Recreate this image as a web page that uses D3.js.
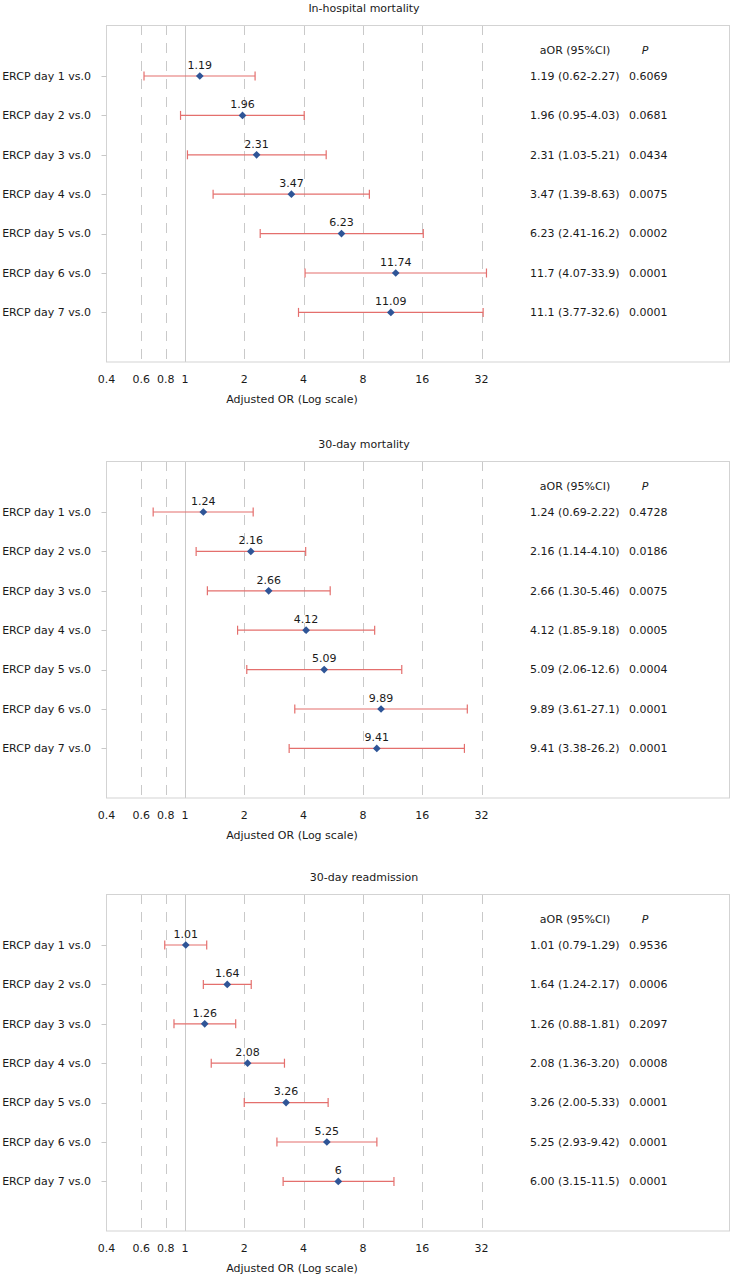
<!DOCTYPE html>
<html>
<head>
<meta charset="utf-8">
<script src="https://cdn.jsdelivr.net/npm/d3@7"></script>
<style>
  body { margin: 0; background: #fff; }
  text { font-family: "DejaVu Sans", Verdana, sans-serif; font-size: 11px; fill: #1a1a1a; }
</style>
</head>
<body>
<div id="chart"></div>
<script>
// data
var rowLabels = ["ERCP day 1 vs.0", "ERCP day 2 vs.0", "ERCP day 3 vs.0", "ERCP day 4 vs.0",
                 "ERCP day 5 vs.0", "ERCP day 6 vs.0", "ERCP day 7 vs.0"];
var panelTitles = ["In-hospital mortality", "30-day mortality", "30-day readmission"];
var tickValues = [0.4, 0.6, 0.8, 1, 2, 4, 8, 16, 32];
var gridValues = [0.6, 0.8, 2, 4, 8, 16, 32];

var hospOR = [1.19, 1.96, 2.31, 3.47, 6.23, 11.74, 11.09];
var hospLo = [0.62, 0.95, 1.03, 1.39, 2.41, 4.07, 3.77];
var hospHi = [2.27, 4.03, 5.21, 8.63, 16.2, 33.9, 32.6];
var hospP  = [0.6069, 0.0681, 0.0434, 0.0075, 0.0002, 0.0001, 0.0001];

var mort30OR = [1.24, 2.16, 2.66, 4.12, 5.09, 9.89, 9.41];
var mort30Lo = [0.69, 1.14, 1.30, 1.85, 2.06, 3.61, 3.38];
var mort30Hi = [2.22, 4.10, 5.46, 9.18, 12.6, 27.1, 26.2];
var mort30P  = [0.4728, 0.0186, 0.0075, 0.0005, 0.0004, 0.0001, 0.0001];

var readmOR = [1.01, 1.64, 1.26, 2.08, 3.26, 5.25, 6];
var readmLo = [0.79, 1.24, 0.88, 1.36, 2.00, 2.93, 3.15];
var readmHi = [1.29, 2.17, 1.81, 3.20, 5.33, 9.42, 11.5];
var readmP  = [0.9536, 0.0006, 0.2097, 0.0008, 0.0001, 0.0001, 0.0001];

var panels = [
  {title: panelTitles[0], or: hospOR, lo: hospLo, hi: hospHi, p: hospP, top: 25},
  {title: panelTitles[1], or: mort30OR, lo: mort30Lo, hi: mort30Hi, p: mort30P, top: 461},
  {title: panelTitles[2], or: readmOR, lo: readmLo, hi: readmHi, p: readmP, top: 894}
];

var width = 731, height = 1275;
var left = 106.5, right = 729.5, plotH = 337;
var errColor = "#e46f6d", dotColor = "#2f5597", gridColor = "#c9c9c9";

// 2 decimals below 10, 1 decimal above (as in the table)
function fmtOR(v) { return v < 10 ? v.toFixed(2) : v.toFixed(1); }
var fmtP = d3.format(".4f");

var svg = d3.select("#chart").append("svg")
  .attr("width", width)
  .attr("height", height);

var x = d3.scaleLog().domain([0.4, 580]).range([left, right]);

panels.forEach(function(pn) {
  var g = svg.append("g").attr("transform", "translate(0," + pn.top + ")");
  var y = d3.scaleLinear().domain([0, 6]).range([51, 51 + 6 * 39.4]);
  var rows = d3.range(rowLabels.length);

  // title
  g.append("text").attr("x", 364).attr("y", -17).attr("dy", "0.35em")
    .attr("text-anchor", "middle").text(pn.title);

  // grid lines
  g.selectAll(".grid").data(gridValues).enter().append("line")
    .attr("x1", function(d) { return Math.round(x(d)) + 0.5; })
    .attr("x2", function(d) { return Math.round(x(d)) + 0.5; })
    .attr("y1", 0).attr("y2", plotH)
    .attr("stroke", gridColor).attr("stroke-dasharray", "10,8");
  g.append("line")
    .attr("x1", Math.round(x(1)) + 0.5).attr("x2", Math.round(x(1)) + 0.5)
    .attr("y1", 0).attr("y2", plotH).attr("stroke", gridColor);

  // frame
  g.append("rect").attr("x", left).attr("y", 0.5)
    .attr("width", right - left).attr("height", plotH - 0.5)
    .attr("fill", "none").attr("stroke", "#d3d3d3");

  // x axis tick labels
  g.selectAll(".tick").data(tickValues).enter().append("text")
    .attr("x", function(d) { return x(d); })
    .attr("y", plotH + 17).attr("dy", "0.35em")
    .attr("text-anchor", "middle").text(function(d) { return d; });
  g.append("text").attr("x", 292).attr("y", plotH + 37).attr("dy", "0.35em")
    .attr("text-anchor", "middle").text("Adjusted OR (Log scale)");

  // y labels and ticks
  g.selectAll(".ylab").data(rows).enter().append("text")
    .attr("x", 91).attr("y", function(i) { return y(i); }).attr("dy", "0.35em")
    .attr("text-anchor", "end").text(function(i) { return rowLabels[i]; });
  g.selectAll(".ytick").data(rows).enter().append("line")
    .attr("x1", left - 5).attr("x2", left)
    .attr("y1", function(i) { return Math.round(y(i)) + 0.5; })
    .attr("y2", function(i) { return Math.round(y(i)) + 0.5; })
    .attr("stroke", "#c8c8c8");

  // error bars
  g.selectAll(".err").data(rows).enter().append("line")
    .attr("x1", function(i) { return x(pn.lo[i]); })
    .attr("x2", function(i) { return x(pn.hi[i]); })
    .attr("y1", function(i) { return y(i); })
    .attr("y2", function(i) { return y(i); })
    .attr("stroke", errColor).attr("stroke-width", 1.2);
  [pn.lo, pn.hi].forEach(function(arr) {
    g.selectAll(null).data(rows).enter().append("line")
      .attr("x1", function(i) { return x(arr[i]); })
      .attr("x2", function(i) { return x(arr[i]); })
      .attr("y1", function(i) { return y(i) - 4.5; })
      .attr("y2", function(i) { return y(i) + 4.5; })
      .attr("stroke", errColor).attr("stroke-width", 1.2);
  });

  // points
  g.selectAll(".pt").data(rows).enter().append("path")
    .attr("d", d3.symbol().type(d3.symbolSquare).size(30))
    .attr("transform", function(i) { return "translate(" + x(pn.or[i]) + "," + y(i) + ") rotate(45)"; })
    .attr("fill", dotColor);
  g.selectAll(".val").data(rows).enter().append("text")
    .attr("x", function(i) { return x(pn.or[i]); })
    .attr("y", function(i) { return y(i) - 11; }).attr("dy", "0.35em")
    .attr("text-anchor", "middle").text(function(i) { return String(pn.or[i]); });

  // table on the right
  g.append("text").attr("x", 575).attr("y", 25).attr("dy", "0.35em")
    .attr("text-anchor", "middle").text("aOR (95%CI)");
  g.append("text").attr("x", 645).attr("y", 25).attr("dy", "0.35em")
    .attr("text-anchor", "middle").attr("font-style", "italic").text("P");
  g.selectAll(".ci").data(rows).enter().append("text")
    .attr("x", 530).attr("y", function(i) { return y(i); }).attr("dy", "0.35em")
    .text(function(i) { return fmtOR(pn.or[i]) + " (" + fmtOR(pn.lo[i]) + "-" + fmtOR(pn.hi[i]) + ")"; });
  g.selectAll(".pv").data(rows).enter().append("text")
    .attr("x", 629).attr("y", function(i) { return y(i); }).attr("dy", "0.35em")
    .text(function(i) { return fmtP(pn.p[i]); });
});
</script>
</body>
</html>
